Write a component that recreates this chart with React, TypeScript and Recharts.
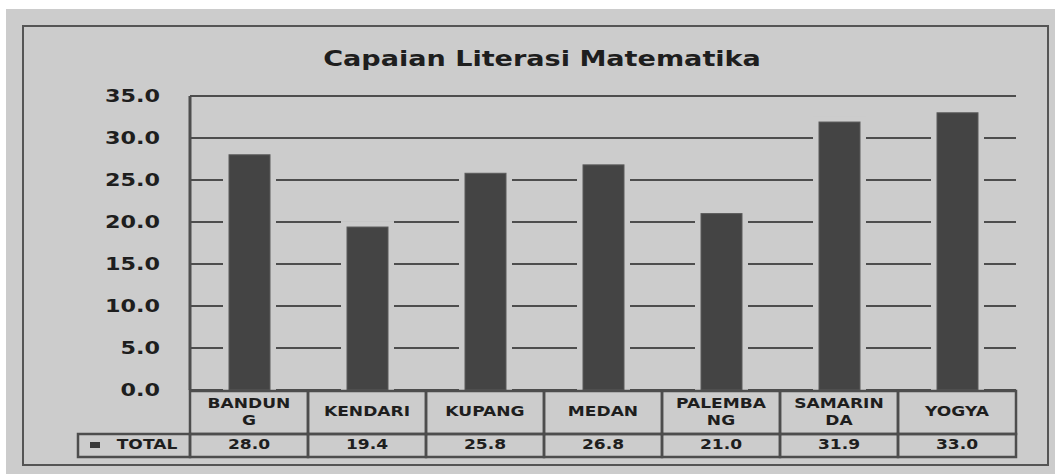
import React from "react";
import { Bar, BarChart, CartesianGrid, XAxis, YAxis } from "recharts";

// values
const categories = ["BANDUNG", "KENDARI", "KUPANG", "MEDAN", "PALEMBANG", "SAMARINDA", "YOGYA"];
// how the data table wraps each category name
const categoryLines = [["BANDUN", "G"], ["KENDARI"], ["KUPANG"], ["MEDAN"], ["PALEMBA", "NG"], ["SAMARIN", "DA"], ["YOGYA"]];
const totals = [28.0, 19.4, 25.8, 26.8, 21.0, 31.9, 33.0];
const yTicks = [0, 5, 10, 15, 20, 25, 30, 35];
const seriesName = "TOTAL";
const title = "Capaian Literasi Matematika";

const data = categories.map((name, i) => ({ name, value: totals[i] }));

const W = 1059;
const H = 474;
const M = { top: 96, right: 43, bottom: 14, left: 90 };
const Y_AXIS_W = 100;
const X_AXIS_H = 70;
const BAND = (W - M.left - Y_AXIS_W - M.right) / categories.length;

const BG = "#cccccc";
const INK = "#1e1e1e";
const LINE = "#4d4d4d";
const FONT = "'DejaVu Sans', Verdana, sans-serif";

// the picture is stretched sideways, so text gets a horizontal scale
function SText({ x, y, s = 1.22, size = 14, anchor = "middle", children }: any) {
  return (
    <text
      transform={`translate(${x} ${y}) scale(${s} 1)`}
      textAnchor={anchor}
      dominantBaseline="central"
      fontSize={size}
      fontWeight="bold"
      fontFamily={FONT}
      fill={INK}
    >
      {children}
    </text>
  );
}

function YTick({ x, y, payload }: any) {
  return <SText x={x} y={y} size={18} s={1.24} anchor="end">{Number(payload.value).toFixed(1)}</SText>;
}

// each x tick draws its column of the data table under the plot
function TableTick({ x, y, payload }: any) {
  const i = payload.index;
  const left = x - BAND / 2;
  const r1 = 43;
  const r2 = 23;
  const lines = categoryLines[i];
  return (
    <g>
      <rect x={left} y={y + 1} width={BAND} height={r1} fill="none" stroke={LINE} strokeWidth={2.5} />
      <rect x={left} y={y + 1 + r1} width={BAND} height={r2} fill="none" stroke={LINE} strokeWidth={2.5} />
      {lines.length === 1 ? (
        <SText x={x} y={y + 22}>{lines[0]}</SText>
      ) : (
        <>
          <SText x={x} y={y + 14}>{lines[0]}</SText>
          <SText x={x} y={y + 31}>{lines[1]}</SText>
        </>
      )}
      <SText x={x} y={y + 55}>{totals[i].toFixed(1)}</SText>
      {i === 0 && (
        <g>
          <rect x={left - 112} y={y + 1 + r1} width={112} height={r2} fill="none" stroke={LINE} strokeWidth={2.5} />
          <rect x={left - 100} y={y + 52} width={10} height={6} fill="#3a3a3a" />
          <SText x={left - 43} y={y + 55}>{seriesName}</SText>
        </g>
      )}
    </g>
  );
}

// bar with a background-coloured halo that cuts the grid lines around it
function HaloBar({ x, y, width, height }: any) {
  return (
    <g>
      <rect x={x - 6} y={y - 6} width={width + 12} height={height + 6} fill={BG} />
      <rect x={x} y={y} width={width} height={height} fill="#444444" stroke="#5a5a5a" strokeWidth={1} />
    </g>
  );
}

export default function App() {
  return (
    <div style={{ position: "absolute", left: 0, top: 0, width: W, height: H, background: "#ffffff", overflow: "hidden" }}>
      <div style={{ position: "absolute", left: 6, top: 9, width: 1049, height: 470, background: BG }} />
      <div
        style={{
          position: "absolute", left: 22, top: 25, width: 1027, height: 441,
          border: "2px solid #555555", boxSizing: "border-box",
        }}
      />
      <svg style={{ position: "absolute", left: 0, top: 0 }} width={W} height={H}>
        <SText x={542} y={59} size={21} s={1.29}>{title}</SText>
      </svg>
      <div style={{ position: "absolute", left: 0, top: 0 }}>
        <BarChart width={W} height={H} data={data} margin={M}>
          <CartesianGrid vertical={false} stroke={LINE} strokeWidth={2} strokeOpacity={1} />
          <XAxis
            dataKey="name"
            axisLine={false}
            tickLine={false}
            tickSize={0}
            tickMargin={0}
            interval={0}
            height={X_AXIS_H}
            tick={<TableTick />}
          />
          <YAxis
            domain={[0, 35]}
            ticks={yTicks}
            width={Y_AXIS_W}
            axisLine={{ stroke: LINE, strokeWidth: 3 }}
            tickLine={false}
            tickSize={6}
            tickMargin={24}
            tick={<YTick />}
          />
          <Bar dataKey="value" barSize={41} shape={<HaloBar />} isAnimationActive={false} />
        </BarChart>
      </div>
    </div>
  );
}
